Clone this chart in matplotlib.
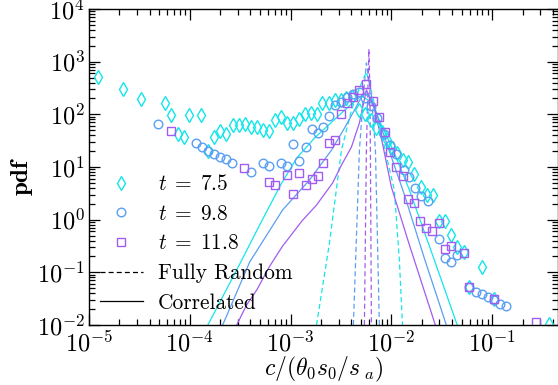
import numpy as np
import matplotlib
matplotlib.use("Agg")
import matplotlib.pyplot as plt
from matplotlib.ticker import FuncFormatter, LogLocator, NullFormatter

plt.rcParams['font.family'] = 'serif'
plt.rcParams['font.serif'] = ['cmr10']
plt.rcParams['mathtext.fontset'] = 'cm'
plt.rcParams['axes.unicode_minus'] = False

CYAN = '#12e6ea'
BLUE = '#5a9ff2'
PURPLE = '#a25cf0'

# --- simulation data (markers) ---
c_75 = [1.23e-5, 2.17e-5, 3.27e-5, 5.65e-5, 6.49e-5, 7.6e-5, 8.7e-5, 9.77e-5, 1.285e-4,
        1.51e-4, 1.73e-4, 1.98e-4, 2.27e-4, 2.67e-4, 3.06e-4, 3.51e-4, 4.02e-4, 4.61e-4,
        5.28e-4, 6.05e-4, 6.95e-4, 7.96e-4, 9.12e-4, 1.05e-3, 1.2e-3, 1.38e-3, 1.58e-3,
        1.81e-3, 2.07e-3, 2.38e-3, 2.73e-3, 3.13e-3, 3.58e-3, 4.11e-3, 4.82e-3, 5.53e-3,
        6.34e-3, 7.1e-3, 8.14e-3, 9.13e-3, 1.02e-2, 1.15e-2, 1.29e-2, 1.47e-2, 1.69e-2,
        1.98e-2, 2.27e-2, 2.61e-2, 2.99e-2, 3.43e-2, 3.93e-2, 4.5e-2, 5.28e-2, 5.92e-2,
        7.96e-2, 0.105, 0.366]
p_75 = [512, 303, 195, 164, 97, 42, 37, 97, 97,
        20, 37, 48, 42, 63, 63, 66, 58, 58,
        50, 48, 78, 89, 69, 69, 82, 101, 106,
        101, 164, 164, 187, 187, 204, 213, 121, 101,
        78, 55, 46, 33, 23, 18.5, 13.6, 12.4, 7.4,
        4.17, 2.94, 2.94, 0.94, 0.94, 0.51, 0.30, 0.243, 0.053,
        0.126, 0.031, 0.0105]

c_98 = [4.82e-5, 1.15e-4, 1.31e-4, 1.51e-4, 1.73e-4, 1.98e-4, 2.27e-4, 2.61e-4, 4.02e-4,
        5.28e-4, 6.05e-4, 7.96e-4, 9.12e-4, 1.05e-3, 1.2e-3, 1.41e-3, 1.62e-3, 1.85e-3,
        2.12e-3, 2.43e-3, 2.79e-3, 3.2e-3, 3.67e-3, 4.2e-3, 4.82e-3, 5.53e-3, 6.34e-3,
        7.26e-3, 8.53e-3, 9.78e-3, 1.12e-2, 1.32e-2, 1.51e-2, 1.73e-2, 1.98e-2, 2.32e-2,
        2.99e-2, 3.43e-2, 3.93e-2, 4.5e-2, 5.92e-2, 6.95e-2, 7.96e-2, 9.12e-2, 0.105,
        0.12, 0.138]
p_98 = [66, 28.6, 24, 20, 17.7, 15.5, 14.2, 11.9, 8.0,
        11.9, 10.4, 11.9, 10.4, 27.4, 13, 24, 52.7, 44,
        58, 93, 150, 171, 213, 243, 266, 204, 144,
        85, 42, 26, 17.7, 8.8, 6.5, 4.0, 2.82, 2.26,
        0.43, 0.187, 0.157, 0.213, 0.053, 0.0424, 0.0388, 0.034, 0.030,
        0.025, 0.023]

c_118 = [6.49e-5, 3.43e-4, 6.05e-4, 6.95e-4, 9.12e-4, 1.05e-3, 1.2e-3, 1.41e-3, 1.62e-3,
         1.85e-3, 2.12e-3, 2.43e-3, 2.79e-3, 3.2e-3, 3.67e-3, 4.2e-3, 4.82e-3, 5.65e-3,
         6.64e-3, 7.6e-3, 8.73e-3, 9.78e-3, 1.12e-2, 1.29e-2, 1.47e-2, 1.69e-2, 1.94e-2,
         2.22e-2, 2.55e-2, 2.99e-2, 3.43e-2, 3.93e-2, 5.28e-2, 5.92e-2, 0.105, 0.273]
p_118 = [48, 9.6, 5.2, 4.55, 7.0, 3.08, 7.7, 4.55, 5.9,
         6.75, 11.9, 28.6, 32.6, 101, 164, 213, 290, 377,
         179, 89, 46, 19.3, 10, 6.75, 2.47, 2.07, 0.94,
         0.695, 0.61, 0.865, 0.277, 0.316, 0.233, 0.053, 0.031, 0.0114]

# --- model curves: correlated (solid) ---
cc_75 = [1.51e-4, 2.92e-4, 4.93e-4, 7.96e-4, 1.15e-3, 1.73e-3, 3.05e-3, 4.31e-3, 5.05e-3,
         6.34e-3, 7.96e-3, 1.07e-2, 1.51e-2, 2.67e-2, 4.5e-2]
pc_75 = [0.01, 0.111, 0.79, 4.55, 14.8, 35.6, 97, 179, 223,
         171, 63, 18.5, 3.66, 0.171, 0.01]
cc_98 = [2.12e-4, 3.93e-4, 8.34e-4, 1.54e-3, 2.55e-3, 3.43e-3, 4.31e-3, 5.28e-3, 6.34e-3,
         7.6e-3, 1e-2, 1.35e-2, 2.12e-2, 3.51e-2]
pc_98 = [0.01, 0.157, 1.53, 5.66, 21, 55, 121, 254, 204,
         72, 15.5, 2.94, 0.187, 0.01]
cc_118 = [2.92e-4, 3.66e-4, 4.61e-4, 6.19e-4, 8.34e-4, 1.3e-3, 1.81e-3, 2.61e-3, 3.2e-3,
          4.02e-3, 4.82e-3, 5.65e-3, 6.64e-3, 8.14e-3, 1e-2, 1.51e-2, 2.73e-2]
pc_118 = [0.01, 0.024, 0.046, 0.13, 0.316, 0.95, 1.9, 4.97, 10.9,
          24, 69, 290, 150, 28.6, 4.17, 0.33, 0.01]

# --- model curves: fully random (dashed) ---
cr_75 = [1.81e-3, 2.43e-3, 3.2e-3, 4.02e-3, 4.82e-3, 5.65e-3, 7.26e-3, 9.12e-3, 1.07e-2,
         1.2e-2, 1.29e-2]
pr_75 = [0.01, 0.36, 21, 121, 316, 637, 97, 13.6, 3.66,
         0.171, 0.01]
cr_98 = [4.2e-3, 4.82e-3, 5.28e-3, 5.65e-3, 6.34e-3, 6.95e-3, 7.6e-3]
pr_98 = [0.01, 21, 233, 944, 233, 21, 0.01]
cr_118 = [5.4e-3, 5.65e-3, 5.85e-3, 5.98e-3, 6.12e-3, 6.19e-3, 6.34e-3]
pr_118 = [0.01, 21, 290, 1740, 290, 21, 0.01]

fig = plt.figure(figsize=(5.58, 3.85), dpi=100)
ax = fig.add_axes([89 / 558, 1 - 325 / 385, 469 / 558, 316 / 385])

lw = 0.9
dsh = (4, 2.5)
ax.plot(cr_75, pr_75, '--', color=CYAN, lw=lw, dashes=dsh)
ax.plot(cr_98, pr_98, '--', color=BLUE, lw=lw, dashes=dsh)
ax.plot(cr_118, pr_118, '--', color=PURPLE, lw=lw, dashes=dsh)
ax.plot(cc_75, pc_75, '-', color=CYAN, lw=lw)
ax.plot(cc_98, pc_98, '-', color=BLUE, lw=lw)
ax.plot(cc_118, pc_118, '-', color=PURPLE, lw=lw)

mew = 1.0
h1, = ax.plot(c_75, p_75, 'd', ls='none', mfc='none', mec=CYAN, ms=7.6, mew=mew,
              label=r'$t\;=\;7.5$')
h2, = ax.plot(c_98, p_98, 'o', ls='none', mfc='none', mec=BLUE, ms=6.2, mew=mew,
              label=r'$t\;=\;9.8$')
h3, = ax.plot(c_118, p_118, 's', ls='none', mfc='none', mec=PURPLE, ms=6.0, mew=mew,
              label=r'$t\;=\;11.8$')
h4, = ax.plot([], [], 'k--', lw=lw, dashes=dsh, label='Fully Random')
h5, = ax.plot([], [], 'k-', lw=lw, label='Correlated')

ax.set_xscale('log')
ax.set_yscale('log')
ax.set_xlim(1e-5, 0.45)
ax.set_ylim(1e-2, 1e4)

fmt = FuncFormatter(lambda v, p: r'$10^{%d}$' % round(np.log10(v)))
for axis in (ax.xaxis, ax.yaxis):
    axis.set_major_locator(LogLocator(base=10, numticks=20))
    axis.set_minor_locator(LogLocator(base=10, subs=np.arange(2, 10), numticks=20))
    axis.set_major_formatter(fmt)
    axis.set_minor_formatter(NullFormatter())

ax.tick_params(which='both', direction='in', top=True, right=True, width=0.9)
ax.tick_params(which='major', length=8, labelsize=17.5)
ax.tick_params(axis='x', which='major', pad=4)
ax.tick_params(axis='y', which='major', pad=3)
ax.tick_params(which='minor', length=4)
for s in ax.spines.values():
    s.set_linewidth(1.0)

ax.set_xlabel(r'$c/(\theta_0 s_0/s_{\ a})$', fontsize=17, labelpad=-1)
ax.set_ylabel('pdf', fontsize=18, fontfamily='cmb10')
ax.yaxis.set_label_coords(-0.12, 0.468)

ax.legend(handles=[h1, h2, h3, h4, h5], loc='upper left', bbox_to_anchor=(0.0235, 0.477),
          frameon=False, fontsize=15.4, handlelength=2.0, handletextpad=0.7,
          labelspacing=0.47, borderaxespad=0, borderpad=0)

fig.savefig('out.png', dpi=100)
